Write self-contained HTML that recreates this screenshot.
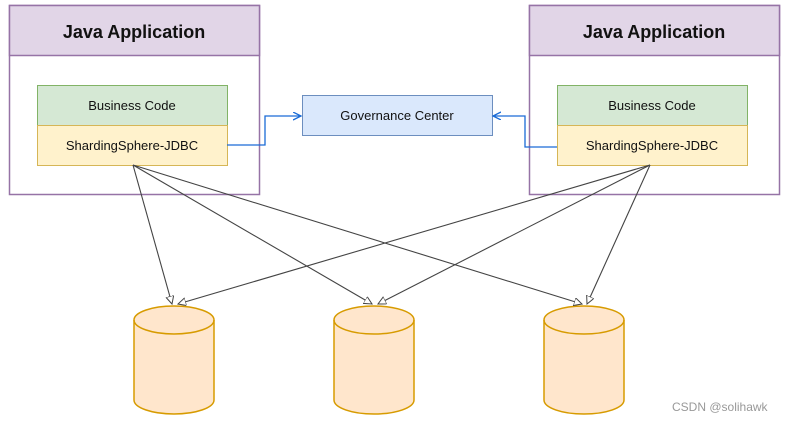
<!DOCTYPE html>
<html><head><style>body{margin:0;background:#fff}svg{display:block}</style></head><body>
<svg width="790" height="421" viewBox="0 0 790 421" xmlns="http://www.w3.org/2000/svg" font-family="'Comic Sans MS','Liberation Sans',sans-serif">
<defs>
<marker id="a" markerWidth="10" markerHeight="10" refX="8" refY="4" orient="auto" markerUnits="userSpaceOnUse"><path d="M0,0 L8,4 L0,8 Z" fill="#fff" stroke="#444" stroke-width="1"/></marker>
<marker id="b" markerWidth="10" markerHeight="10" refX="8" refY="4" orient="auto" markerUnits="userSpaceOnUse"><path d="M0,0 L8,4 L0,8" fill="none" stroke="#1a6bd6" stroke-width="1.3"/></marker>
</defs>
<g>
<rect x="9.5" y="5.5" width="250" height="189" fill="#fff" stroke="#9673a6" stroke-width="1.5"/>
<rect x="9.5" y="5.5" width="250" height="50" fill="#e1d5e7" stroke="#9673a6" stroke-width="1.5"/>
<text x="134" y="38" text-anchor="middle" font-size="18" font-weight="bold" fill="#111">Java Application</text>
<rect x="37.5" y="85.5" width="190" height="40" fill="#d5e8d4" stroke="#82b366"/>
<text x="132" y="110" text-anchor="middle" font-size="13" fill="#111">Business Code</text>
<rect x="37.5" y="125.5" width="190" height="40" fill="#fff2cc" stroke="#d6b656"/>
<text x="132" y="150" text-anchor="middle" font-size="13" fill="#111">ShardingSphere-JDBC</text>
</g>
<g>
<rect x="529.5" y="5.5" width="250" height="189" fill="#fff" stroke="#9673a6" stroke-width="1.5"/>
<rect x="529.5" y="5.5" width="250" height="50" fill="#e1d5e7" stroke="#9673a6" stroke-width="1.5"/>
<text x="654" y="38" text-anchor="middle" font-size="18" font-weight="bold" fill="#111">Java Application</text>
<rect x="557.5" y="85.5" width="190" height="40" fill="#d5e8d4" stroke="#82b366"/>
<text x="652" y="110" text-anchor="middle" font-size="13" fill="#111">Business Code</text>
<rect x="557.5" y="125.5" width="190" height="40" fill="#fff2cc" stroke="#d6b656"/>
<text x="652" y="150" text-anchor="middle" font-size="13" fill="#111">ShardingSphere-JDBC</text>
</g>
<rect x="302.5" y="95.5" width="190" height="40" fill="#dae8fc" stroke="#6c8ebf"/>
<text x="397" y="120" text-anchor="middle" font-size="13" fill="#111">Governance Center</text>
<path d="M227,145 H265 V116 H301" fill="none" stroke="#1a6bd6" stroke-width="1.3" marker-end="url(#b)"/>
<path d="M557,147 H525 V116 H493" fill="none" stroke="#1a6bd6" stroke-width="1.3" marker-end="url(#b)"/>
<g fill="#ffe6cc" stroke="#d79b00" stroke-width="1.5">
<path d="M134,320 V400 A40,14 0 0 0 214,400 V320 A40,14 0 0 0 134,320 Z"/><path d="M134,320 A40,14 0 0 0 214,320" fill="none"/>
<path d="M334,320 V400 A40,14 0 0 0 414,400 V320 A40,14 0 0 0 334,320 Z"/><path d="M334,320 A40,14 0 0 0 414,320" fill="none"/>
<path d="M544,320 V400 A40,14 0 0 0 624,400 V320 A40,14 0 0 0 544,320 Z"/><path d="M544,320 A40,14 0 0 0 624,320" fill="none"/>
</g>
<g stroke="#444" stroke-width="1.1" fill="none">
<path d="M133,165 L172,304" marker-end="url(#a)"/>
<path d="M133,165 L372,304" marker-end="url(#a)"/>
<path d="M133,165 L582,304" marker-end="url(#a)"/>
<path d="M650,165 L178,304" marker-end="url(#a)"/>
<path d="M650,165 L378,304" marker-end="url(#a)"/>
<path d="M650,165 L587,304" marker-end="url(#a)"/>
</g>
<text x="672" y="411" font-family="'Liberation Sans',sans-serif" font-size="12" fill="#999">CSDN @solihawk</text>
</svg>
</body></html>
